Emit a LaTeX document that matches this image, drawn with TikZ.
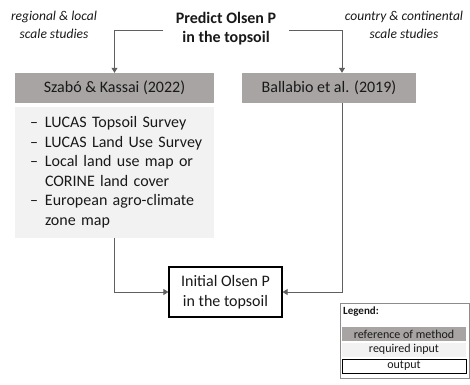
\documentclass[tikz,border=0pt]{standalone}
\usepackage{fontspec}
\setmainfont{Carlito}
\usetikzlibrary{arrows.meta}
\definecolor{refgray}{RGB}{168,164,164}
\definecolor{inputgray}{RGB}{242,242,242}
\definecolor{linegray}{RGB}{95,95,95}

\begin{document}
\begin{tikzpicture}[x=1pt,y=-1pt,
    every node/.style={inner sep=0pt, text=black!90},
    bigtext/.style={font=\fontsize{16}{19.5}\selectfont},
    refcol/.style={fill=refgray},
    incol/.style={fill=inputgray},
    outcol/.style={draw=black, line width=1pt, fill=white},
    scalenote/.style={align=center, font=\fontsize{13.5}{18}\selectfont\itshape},
    legrow/.style={minimum width=124pt, minimum height=14pt, font=\fontsize{12}{14}\selectfont},
    conn/.style={draw=linegray, line width=0.8pt, -{Triangle[length=5pt,width=6pt]}}]
\useasboundingbox (0,0) rectangle (470,384);

\node[font=\fontsize{16}{19}\selectfont\bfseries, align=center, inner xsep=12.5pt] (goal) at (226,28.5) {Predict Olsen P\\in the topsoil};
\node[scalenote] (regional) at (54,25) {regional \& local\\scale studies};
\node[scalenote] (country) at (404,25) {country \& continental\\scale studies};

\node[bigtext, refcol, minimum width=199pt, minimum height=30pt] (szabo) at (114.5,88) {Szabó \& Kassai (2022)};
\node[bigtext, refcol, minimum width=174pt, minimum height=30pt] (ballabio) at (329,88) {Ballabio et al. (2019)};

\node[bigtext, incol, text width=169pt, inner xsep=15pt, minimum height=131pt, anchor=north] (inputs) at (114.5,107) {%
  \begin{tabular}{@{}p{15pt}@{}l@{}}
  -- & LUCAS Topsoil Survey\\
  -- & LUCAS Land Use Survey\\
  -- & Local land use map or\\
     & CORINE land cover\\
  -- & European agro-climate\\
     & zone map
  \end{tabular}};

\node[bigtext, outcol, line width=1.2pt, align=center, minimum width=113pt, minimum height=50pt] (initial) at (225.5,292) {Initial Olsen P\\in the topsoil};

\draw[conn] ([yshift=-2pt]goal.west) -| (szabo.north);
\draw[conn] ([yshift=-2pt]goal.east) -| ([xshift=13pt]ballabio.north);
\draw[conn] (inputs.south) |- (initial.west);
\draw[conn] ([xshift=13pt]ballabio.south) |- (initial.east);

\node[draw=black!45, line width=0.6pt, minimum width=129pt, minimum height=75pt, anchor=north west] (legend) at (339.5,303) {};
\node[font=\fontsize{11}{13}\selectfont\bfseries, anchor=west] (legtitle) at (343,312) {Legend:};
\foreach \name/\y/\kind/\txt in {legref/334/refcol/reference of method,
    legin/349.5/incol/required input, legout/366/outcol/output}
  \node[legrow, \kind] (\name) at (404,\y) {\txt};
\end{tikzpicture}
\end{document}
